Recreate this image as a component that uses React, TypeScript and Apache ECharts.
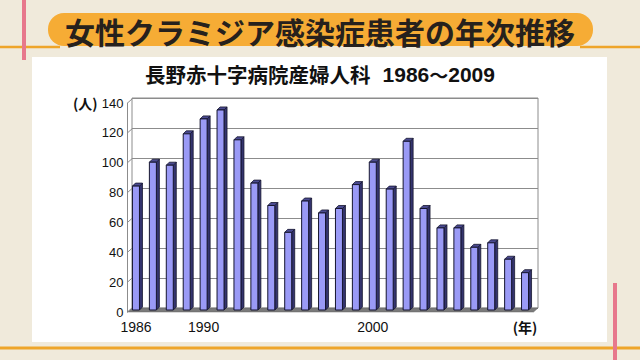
import React, { useEffect, useRef } from "react";
import * as echarts from "echarts";

const years = ["1986","1987","1988","1989","1990","1991","1992","1993","1994","1995","1996","1997","1998","1999","2000","2001","2002","2003","2004","2005","2006","2007","2008","2009"];
const patients = [83, 99, 97, 118, 128, 134, 114, 85, 70, 52, 73, 65, 68, 84, 99, 81, 113, 68, 55, 55, 42, 45, 34, 25];
const yTicks = [0, 20, 40, 60, 80, 100, 120, 140];
const labelledYears = ["1986", "1990", "2000"];
const titleText = "女性クラミジア感染症患者の年次推移";
const subtitleHospital = "長野赤十字病院産婦人科";
const periodStart = "1986";
const periodEnd = "2009";
const yUnit = "(人)";
const xUnit = "(年)";

const DEPTH_X = 4.5;
const DEPTH_Y = 4;

export default function App() {
  const ref = useRef<HTMLDivElement>(null);
  useEffect(() => {
    if (!ref.current) return;
    const chart = echarts.init(ref.current, null, { renderer: "svg" });
    const font = "'Noto Sans CJK JP', 'Noto Sans', sans-serif";
    const latin = "'Liberation Sans', Arial, sans-serif";

    const option: any = {
      animation: false,
      backgroundColor: "#f0eadb",
      title: [
        {
          text: titleText,
          left: "center",
          top: 16,
          padding: 0,
          textStyle: { fontSize: 30, fontWeight: "bold", color: "#26211d", fontFamily: font, lineHeight: 30 },
        },
        {
          text: "{a|" + subtitleHospital + "}{s| }{b|" + periodStart + "}{w|～}{b|" + periodEnd + "}",
          left: "center",
          top: 63,
          padding: 0,
          textStyle: {
            rich: {
              a: { fontSize: 20.5, fontWeight: "bold", color: "#111", fontFamily: font, lineHeight: 22 },
              s: { fontSize: 14, width: 12, lineHeight: 22 },
              b: { fontSize: 21, fontWeight: "bold", color: "#111", fontFamily: latin, lineHeight: 22 },
              w: { fontSize: 19, fontWeight: "bold", color: "#111", fontFamily: font, lineHeight: 22 },
            },
          },
        },
        {
          text: yUnit,
          left: 73,
          top: 95,
          padding: 0,
          textStyle: { fontSize: 14, fontWeight: "bold", color: "#111", fontFamily: font, lineHeight: 16 },
        },
      ],
      graphic: [
        { type: "rect", z: -10, shape: { x: 32, y: 57, width: 575, height: 285 }, style: { fill: "#ffffff" } },
        { type: "line", z: -9, shape: { x1: 0, y1: 47, x2: 60, y2: 47 }, style: { stroke: "#eea52a", lineWidth: 2.5 } },
        { type: "line", z: -9, shape: { x1: 580, y1: 47, x2: 640, y2: 47 }, style: { stroke: "#eea52a", lineWidth: 2.5 } },
        { type: "line", z: -9, shape: { x1: 0, y1: 348, x2: 640, y2: 348 }, style: { stroke: "#eea52a", lineWidth: 3 } },
        { type: "line", z: -8, shape: { x1: 24, y1: 0, x2: 24, y2: 60 }, style: { stroke: "#e7788c", lineWidth: 4 } },
        { type: "line", z: -8, shape: { x1: 615, y1: 283, x2: 615, y2: 360 }, style: { stroke: "#e7788c", lineWidth: 4 } },
        { type: "rect", z: -7, shape: { x: 48, y: 13, width: 545, height: 33, r: 16 }, style: { fill: "#f6ac35" } },
      ],
      grid: [
        { left: 132, top: 98, width: 406, height: 210, show: true, borderColor: "#8c8c8c", borderWidth: 1, backgroundColor: "transparent" },
        { left: 127.5, top: 103, width: 406, height: 209 },
      ],
      xAxis: [
        { type: "category", gridIndex: 0, data: years, show: false },
        {
          type: "category",
          gridIndex: 1,
          data: years,
          axisLine: { show: false },
          axisTick: { show: false },
          axisLabel: {
            interval: 0,
            margin: 8,
            fontSize: 14,
            color: "#111",
            fontFamily: latin,
            formatter: (v: string, i: number) =>
              labelledYears.includes(v) ? v : i === years.length - 1 ? "{b|" + xUnit + "}" : "",
            rich: { b: { fontSize: 14, fontWeight: "bold", color: "#111", fontFamily: font } },
          },
        },
      ],
      yAxis: [
        {
          type: "value",
          gridIndex: 0,
          min: 0,
          max: 140,
          interval: 20,
          axisLine: { show: false },
          axisTick: { show: false },
          axisLabel: { show: false },
          splitLine: { show: true, lineStyle: { color: "#8c8c8c", width: 1 } },
        },
        {
          type: "value",
          gridIndex: 1,
          min: 0,
          max: 140,
          interval: 20,
          axisLine: { show: true, lineStyle: { color: "#8c8c8c", width: 1 } },
          axisTick: { show: false },
          axisLabel: { fontSize: 13, color: "#111", fontFamily: latin, margin: 4 },
          splitLine: { show: false },
        },
      ],
      series: [
        {
          type: "custom",
          xAxisIndex: 1,
          yAxisIndex: 1,
          z: 1,
          data: [[0, 0]],
          renderItem: (params: any, api: any) => {
            const cs = params.coordSys;
            const bx = cs.y + cs.height;
            const children: any[] = [
              {
                type: "polygon",
                shape: {
                  points: [
                    [cs.x, bx],
                    [cs.x + cs.width, bx],
                    [cs.x + cs.width + DEPTH_X, bx - DEPTH_Y],
                    [cs.x + DEPTH_X, bx - DEPTH_Y],
                  ],
                },
                style: { fill: "#7a7a7a", stroke: "#666", lineWidth: 0.5 },
              },
            ];
            yTicks.forEach((t) => {
              const p = api.coord([0, t]);
              children.push({
                type: "line",
                shape: { x1: cs.x, y1: p[1], x2: cs.x + DEPTH_X, y2: p[1] - DEPTH_Y },
                style: { stroke: "#8c8c8c", lineWidth: 1 },
              });
            });
            return { type: "group", children };
          },
        },
        {
          type: "custom",
          xAxisIndex: 1,
          yAxisIndex: 1,
          z: 2,
          data: patients.map((v, i) => [i, v]),
          renderItem: (params: any, api: any) => {
            const idx = api.value(0);
            const v = api.value(1);
            const top = api.coord([idx, v]);
            const bot = api.coord([idx, 0]);
            const shiftY = -2;
            const bw = 7;
            const dx = 3;
            const dy = 3;
            const l = top[0] - bw / 2;
            const r = top[0] + bw / 2;
            const ty = top[1] + shiftY;
            const by = bot[1] + shiftY;
            return {
              type: "group",
              children: [
                {
                  type: "polygon",
                  shape: { points: [[r, ty], [r + dx, ty - dy], [r + dx, by - dy], [r, by]] },
                  style: { fill: "#34346e", stroke: "#15152e", lineWidth: 0.8 },
                },
                {
                  type: "polygon",
                  shape: { points: [[l, ty], [l + dx, ty - dy], [r + dx, ty - dy], [r, ty]] },
                  style: { fill: "#4a4a90", stroke: "#15152e", lineWidth: 0.8 },
                },
                {
                  type: "rect",
                  shape: { x: l, y: ty, width: bw, height: by - ty },
                  style: { fill: "#9a9af6", stroke: "#15152e", lineWidth: 1 },
                },
              ],
            };
          },
        },
      ],
    };
    chart.setOption(option);
    return () => chart.dispose();
  }, []);
  return <div ref={ref} style={{ position: "fixed", left: 0, top: 0, width: 640, height: 360 }} />;
}
